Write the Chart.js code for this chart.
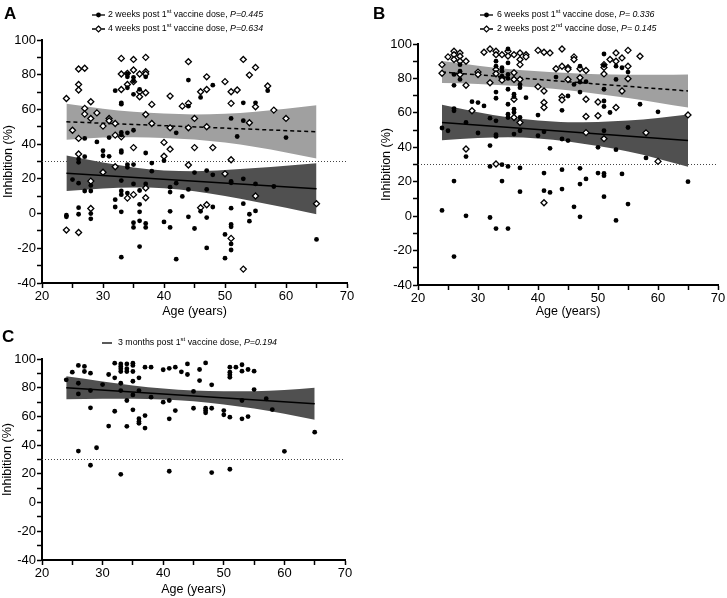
<!DOCTYPE html>
<html>
<head>
<meta charset="utf-8">
<script src="https://cdn.jsdelivr.net/npm/chart.js@4"></script>
<style>
  body { margin: 0; background: #fff; width: 727px; height: 598px; position: relative; overflow: hidden; }
  canvas { position: absolute; }
  #cA { left: 0; top: 0; }
  #cB { left: 360px; top: 0; }
  #cC { left: 0; top: 320px; }
</style>
</head>
<body>
<canvas id="cA" width="360" height="320"></canvas>
<canvas id="cB" width="367" height="320"></canvas>
<canvas id="cC" width="360" height="278"></canvas>
<script>
const FONT = '"Liberation Sans", Arial, sans-serif';

// Panel A, 2 weeks post 1st dose (filled circles)
const ageA2w = [24,24, 25, 26,26,26,26,26, 27,27,27, 28,28,28,28, 29, 30,30, 31,31, 32,32,32,
  33,33,33,33,33,33,33,33,33,33,33, 34,34,34,34,34,34,34, 35,35,35,35,35,35,35,35,
  36,36,36,36,36,36, 37,37,37,37,37, 38,38, 40,40, 41,41,41,41, 42,42,42, 43,
  44,44,44,44, 45,45, 46,46, 47,47,47,47, 48,48,48, 50,50, 51,51,51,51,51,51,51,51, 52,
  53,53,53,53, 54,54, 55,55,55, 57, 58, 60, 65];
const inhA2w = [-0.9,-1.9, 19.6, 31.4,29.5,17.5,3.4,-0.4, 43.3,32.8,13, 16.2,13,0,-3, 41.3, 36.2,33.3, 43.8,33, 70.8,8,3.8,
  63.8,63.0,46.7,45.2,36.2,35.2,19,13,10.9,1,-25.1, 80.4,78.8,72.5,46.5,28.2,26.7,11.8, 78.5,76.5,68.7,48,28.2,17.1,-5.3,-8,
  71.5,13.3,5.3,1,-4.2,-19, 78.8,34.9,17.1,-5.7,-8, 29.1,24.4, 30.5,-4.8, 15.2,12.4,1.3,-8, 46.5,17.5,-26.3, 9.9,
  76.9,61.9,13.9,-1.9, 23.6,-8.6, 66.9,1.3, 24.8,13.9,-2.3,-19.8, 74,22.3,3.8, -12,-25.7, 54.8,18.5,17.7,3.1,-6.3,-7.6,-17.5,-21, 44.4,
  63.8,53.5,20,5.7, -0.4,-4.4, 63.8,17.1,1.5, 70.8, 15.6, 43.8, -14.9];

// Panel A, 4 weeks post 1st dose (open diamonds)
const ageA4w = [24,24, 25, 26,26,26,26,26,26, 27,27,27, 28,28,28,28, 29, 30,30, 31,31, 32,32,32,
  33,33,33,33, 34,34,34, 35,35,35,35,35, 36,36,36, 37,37,37,37,37,37,37, 38,38, 40,40, 41,41,41, 43,
  44,44,44,44, 45,45, 46,46, 47,47,47,47, 48, 50,50, 51,51,51,51, 52, 53,53, 54,54, 55,55,55, 57, 58, 60, 65];
const inhA4w = [66.3,-9.5, 48, 83.3,74.4,71.2,43.3,34.3,-10.9, 83.7,60.6,57.3, 64.4,54.8,18.7,2.9, 58, 50.4,23.8, 54.8,53.5, 51.9,45.2,27,
  89.4,80.4,71.5,44.2, 80.8,74.4,8.9, 88.8,82.7,76,38,10.9, 80.4,70.2,67.3, 90,81.7,80.4,69.6,57.1,14.7,9.1, 62.9,51.9, 41,33, 67.7,49.4,37.1, 61.9,
  87.5,63.5,49.4,28, 54.8,38, 70.2,3.4, 78.8,71.5,50,5.1, 38, 76,22.9, 70.2,63.5,31,-14.3, 71.2, 88.8,-32, 79.8,52.3, 84.2,61.5,10.1, 73.5, 59.6, 54.8, 5.7];

// Panel B, 6 weeks post 1st dose (filled circles)
const ageB6w = [24,24, 25, 26,26,26,26,26,26, 27,27,27, 28,28,28, 29, 30,30, 31, 32,32,32,32,
  33,33,33,33,33,33,33,33, 34,34,34,34,34, 35,35,35,35,35,35,35,35,35,35,
  36,36,36,36,36, 37,37,37,37,37,37, 38, 40,40, 41,41,41, 42,42, 43, 44,44,44,44, 45,45, 46,46,
  47,47,47,47,47,47, 48,48, 50,50, 51,51,51,51,51,51,51,51,51, 52, 53,53,53,53, 54,54, 55,55,55, 57, 58, 60, 65];
const inhB6w = [51.2,3.3, 49.6, 82.3,76,62.5,61.2,20.4,-23.5, 88,84.2,79.4, 54.4,34.6,0.2, 66.5, 66,48.3, 64, 56.9,41,28.9,-0.8,
  90,87.1,72.1,68.5,55.4,47.3,46.3,-7.2, 86.2,84.2,81.3,29.9,20.4, 97.1,89,82.3,80,73.7,65,59.2,57.3,28.9,-7.2,
  70.8,69.4,62.1,60.2,47.7, 76.5,74.6,57.3,49.6,28,14.2, 68.8, 58.7,46.7, 49,25,14.8, 39.4,13.8, 80.8, 61.5,44.8,27,15.7, 69.8,43.9, 76.5,5.4,
  87.1,77.9,72.1,27.8,18.6,-0.4, 78.1,21.6, 40,25, 94.2,87.5,73.7,66.9,63.7,49.6,24.8,23.5,11.3, 60.2, 87.1,79.4,38.6,-2.5, 86.2,24.5, 83.7,51.5,7, 65, 33.8, 60.6, 20];

// Panel B, 2 weeks post 2nd dose (open diamonds)
const ageB2d = [24,24, 25, 26,26,26, 27,27,27,27, 28,28,28, 29, 30,30, 31, 32,32, 33,33,33,33,33, 34,34,34, 35,35,
  36,36,36,36,36, 37,37,37,37,37, 38,38, 40,40, 41,41,41,41,41, 42, 43, 44,44,44,44, 45,45,45, 46,46, 47,47,
  48,48,48,48, 50,50, 51,51,51,51, 52, 53,53,53, 54,54, 55,55,55, 57, 58, 60, 65];
const inhB2d = [88,83, 92.5, 95.8,93.8,91, 94.8,92.9,90,82.3, 90,76,39, 61.2, 83.7,82.3, 95.2, 97.1,77.5, 95.8,93.8,85.2,82.7,30.3, 93.8,80.4,79, 95.8,93,
  93.8,83.3,79.4,67.9,57.3, 94.8,91,88,79.4,54.4, 93.8,92.5, 96.3,75.2, 95.2,72.7,66,63.1,7.8, 94.8, 85.6, 97.1,87.1,69.4,67.5, 86.2,85.3,79.4, 92.5,91, 85.6,80.4,
  84.6,67.9,57.9,48.5, 66.3,58.3, 88,86.4,82.6,45, 91, 94.8,90,63.1, 91.9,72.7, 96.3,87.1,79.8, 92.9, 48.4, 31.8, 58.8];

// Panel C, 3 months post 1st dose
const ageC3m = [24, 25, 26,26,26,26, 27,27, 28,28,28,28, 29, 30, 31,31, 32,32,32, 33,33,33,33,33,33,33,
  34,34,34,34,34, 35,35,35,35,35,35, 36,36,36,36,36, 37,37,37, 38,38, 40,40, 41,41,41,41, 42,42, 43, 44,44,
  45,45, 46,46, 47,47,47,47, 48,48,48, 50,50, 51,51,51,51,51,51, 52, 53,53,53,53, 54,54, 55,55, 57, 58, 60, 65];
const inhC3m = [85.5, 90.8, 95.5,83.1,75.7,35.9, 94.8,91.3, 90.1,78,66,26, 38.2, 82.2, 89.2,53.3, 97.1,86.9,63.6, 96.6,94.8,93.2,91.3,83.1,78,19.7,
  96.6,93.2,91.3,71.1,53.1, 97.1,95.5,91.3,84.5,75,64.6, 86.9,78,58.4,56.4,55.2, 94.3,60.6,51.9, 94.3,73.4, 92.5,69.9, 93.5,71.1,58.3,21.8, 94.3,64.1, 91.1, 96.6,89.2,
  77.4,65.7, 92.7,85, 97.3,65.7,64.1,62.5, 82,65.7,20.9, 64.1,61.1, 94.3,90.8,89,87.3,59.5,23.2, 94.3, 96,91.5,71.1,58.3, 92.7,59.9, 91.5,78.7, 72.3, 64.8, 35.7, 49];

// regression lines and 95% bands
const fitAge = [24, 65];
const fitA2w = [23.2, 14.3];
const fitA4w = [52.9, 47.1];
const fitB6w = [54.4, 43.9];
const fitB2d = [83.7, 72.7];
const fitC3m = [79.9, 68.8];

const bandAge = [24, 30, 35, 40, 45, 50, 55, 60, 65];
const hiA2w = [33.4, 29.4, 26.6, 24.8, 24.4, 25.1, 26.2, 27.6, 29.0];
const loA2w = [13.0, 14.4, 15.0, 14.6, 12.8, 10.1, 6.8, 3.3, -0.4];
const hiA4w = [63.2, 60.4, 58.6, 57.6, 57.1, 57.5, 58.7, 60.4, 62.4];
const loA4w = [42.6, 43.8, 44.0, 43.6, 42.7, 40.9, 38.3, 35.2, 31.8];
const hiB6w = [64.7, 60.4, 57.4, 55.5, 54.6, 54.7, 55.5, 57.0, 59.1];
const loB6w = [44.1, 45.4, 45.8, 45.1, 43.4, 40.7, 37.5, 33.4, 28.7];
const hiB2d = [90.1, 87.4, 85.5, 84.1, 83.1, 82.4, 82.2, 82.1, 82.3];
const loB2d = [77.3, 76.8, 75.9, 74.7, 73.1, 71.0, 68.6, 65.9, 63.1];
const hiC3m = [87.9, 84.3, 81.5, 79.4, 78.0, 77.5, 77.6, 78.4, 79.9];
const loC3m = [71.9, 72.3, 72.3, 71.8, 70.5, 68.3, 65.5, 61.9, 57.7];

const cutoff = 30;
const DARK = '#505050';
const LIGHT = '#a0a0a0';

function pts(xs, ys) {
  return xs.map((x, i) => ({ x: x, y: ys[i] }));
}

function band(lo, hi, color) {
  return [
    { type: 'line', data: pts(bandAge, lo), borderWidth: 0, borderColor: 'rgba(0,0,0,0)', pointRadius: 0,
      fill: false, cubicInterpolationMode: 'monotone', order: 3 },
    { type: 'line', data: pts(bandAge, hi), borderWidth: 0, borderColor: 'rgba(0,0,0,0)', pointRadius: 0,
      fill: '-1', backgroundColor: color, cubicInterpolationMode: 'monotone', order: 3 }
  ];
}

function fitLine(ys, dashed) {
  return { type: 'line', data: pts(fitAge, ys), borderColor: '#000', borderWidth: 1.5,
    borderDash: dashed ? [4, 3] : [], pointRadius: 0, fill: false, order: 1 };
}

function cutLine() {
  return { type: 'line', data: [{ x: 20, y: cutoff }, { x: 70, y: cutoff }], borderColor: '#444',
    borderWidth: 1, borderDash: [1, 2], pointRadius: 0, fill: false, order: 4 };
}

function dots(xs, ys) {
  return { type: 'scatter', data: pts(xs, ys), pointStyle: 'circle', pointRadius: 2.4,
    backgroundColor: '#000', borderColor: '#000', borderWidth: 0, order: 0 };
}

function diamonds(xs, ys) {
  return { type: 'scatter', data: pts(xs, ys), pointStyle: 'rectRot', pointRadius: 3,
    backgroundColor: '#fff', borderColor: '#000', borderWidth: 1.3, order: 0 };
}

// panel letter + legend with superscripts, drawn on the canvas
const panelText = {
  id: 'panelText',
  afterDraw(chart, args, o) {
    const ctx = chart.ctx;
    ctx.save();
    ctx.fillStyle = '#000';
    ctx.font = 'bold 17px ' + FONT;
    ctx.textBaseline = 'alphabetic';
    ctx.fillText(o.letter, o.letterX, o.letterY);
    o.items.forEach(it => {
      ctx.strokeStyle = '#000';
      ctx.lineWidth = 1.3;
      ctx.setLineDash(it.dash ? [3, 2] : []);
      ctx.beginPath();
      ctx.moveTo(o.lineX, it.y);
      ctx.lineTo(o.lineX + o.lineW, it.y);
      ctx.stroke();
      ctx.setLineDash([]);
      const mx = o.lineX + o.lineW / 2;
      if (it.marker === 'circle') {
        ctx.beginPath();
        ctx.arc(mx, it.y, 2.4, 0, Math.PI * 2);
        ctx.fill();
      } else if (it.marker === 'diamond') {
        ctx.beginPath();
        ctx.moveTo(mx, it.y - 3);
        ctx.lineTo(mx + 3, it.y);
        ctx.lineTo(mx, it.y + 3);
        ctx.lineTo(mx - 3, it.y);
        ctx.closePath();
        ctx.fillStyle = '#fff';
        ctx.fill();
        ctx.lineWidth = 1.2;
        ctx.stroke();
        ctx.fillStyle = '#000';
      }
      let x = o.textX;
      ctx.textBaseline = 'middle';
      it.parts.forEach(p => {
        let size = 8.8, dy = 0, style = '';
        if (p[0] === 'sup') { size = 6; dy = -3.5; }
        if (p[0] === 'i') style = 'italic ';
        ctx.font = style + size + 'px ' + FONT;
        ctx.fillText(p[1], x, it.y + dy);
        x += ctx.measureText(p[1]).width;
      });
    });
    ctx.restore();
  }
};

function axes(yWidth, xHeight, yTitlePad) {
  const tickFont = { family: FONT, size: 13 };
  const titleFont = { family: FONT, size: 12.5 };
  return {
    x: {
      type: 'linear', min: 20, max: 70,
      border: { color: '#000', width: 2 },
      grid: { drawOnChartArea: false, tickLength: 5, tickColor: '#000', tickWidth: 1.5 },
      ticks: { stepSize: 5, padding: 1, color: '#000', font: tickFont, maxRotation: 0, autoSkip: false,
        callback: v => (v % 10 === 0 ? v : '') },
      title: { display: true, text: 'Age (years)', color: '#000', font: titleFont, padding: { top: 0, bottom: 0.5 } },
      afterFit: s => { s.height = xHeight; }
    },
    y: {
      type: 'linear', min: -40, max: 100,
      border: { color: '#000', width: 2 },
      grid: { drawOnChartArea: false, tickLength: 5, tickColor: '#000', tickWidth: 1.5 },
      ticks: { stepSize: 10, padding: 1, color: '#000', font: tickFont, autoSkip: false,
        callback: v => (v % 20 === 0 ? v : '') },
      title: { display: true, text: 'Inhibition (%)', color: '#000', font: titleFont, padding: { top: yTitlePad, bottom: 0 } },
      afterFit: s => { s.width = yWidth; }
    }
  };
}

function makeChart(id, datasets, pad, yWidth, xHeight, yTitlePad, text) {
  return new Chart(document.getElementById(id), {
    type: 'scatter',
    data: { datasets: datasets },
    options: {
      responsive: false,
      animation: false,
      events: [],
      layout: { padding: pad },
      scales: axes(yWidth, xHeight, yTitlePad),
      plugins: { legend: { display: false }, tooltip: { enabled: false }, panelText: text }
    },
    plugins: [panelText]
  });
}

makeChart('cA', [
  dots(ageA2w, inhA2w),
  diamonds(ageA4w, inhA4w),
  fitLine(fitA2w, false),
  fitLine(fitA4w, true),
  ...band(loA4w, hiA4w, LIGHT),
  ...band(loA2w, hiA2w, DARK),
  cutLine()
], { top: 40, right: 13, bottom: 0, left: 0 }, 42, 37, 1.5, {
  letter: 'A', letterX: 4, letterY: 19, lineX: 92, lineW: 13, textX: 108,
  items: [
    { y: 15, dash: false, marker: 'circle', parts: [['t', '2 weeks post 1'], ['sup', 'st'], ['t', ' vaccine dose, '], ['i', 'P=0.445']] },
    { y: 29, dash: true, marker: 'diamond', parts: [['t', '4 weeks post 1'], ['sup', 'st'], ['t', ' vaccine dose, '], ['i', 'P=0.634']] }
  ]
});

makeChart('cB', [
  dots(ageB6w, inhB6w),
  diamonds(ageB2d, inhB2d),
  fitLine(fitB6w, false),
  fitLine(fitB2d, true),
  ...band(loB2d, hiB2d, LIGHT),
  ...band(loB6w, hiB6w, DARK),
  cutLine()
], { top: 44, right: 9, bottom: 0, left: 0 }, 58, 35, 19, {
  letter: 'B', letterX: 13, letterY: 19, lineX: 120, lineW: 13, textX: 137,
  items: [
    { y: 15, dash: false, marker: 'circle', parts: [['t', '6 weeks post 1'], ['sup', 'st'], ['t', ' vaccine dose, '], ['i', 'P= 0.336']] },
    { y: 29, dash: true, marker: 'diamond', parts: [['t', '2 weeks post 2'], ['sup', 'nd'], ['t', ' vaccine dose, '], ['i', 'P= 0.145']] }
  ]
});

makeChart('cC', [
  dots(ageC3m, inhC3m),
  fitLine(fitC3m, false),
  ...band(loC3m, hiC3m, DARK),
  cutLine()
], { top: 39, right: 15, bottom: 0, left: 0 }, 42, 38, 0.5, {
  letter: 'C', letterX: 2, letterY: 22, lineX: 102, lineW: 10, textX: 118,
  items: [
    { y: 23, dash: false, marker: 'none', parts: [['t', '3 months post 1'], ['sup', 'st'], ['t', ' vaccine dose, '], ['i', 'P=0.194']] }
  ]
});
</script>
</body>
</html>
